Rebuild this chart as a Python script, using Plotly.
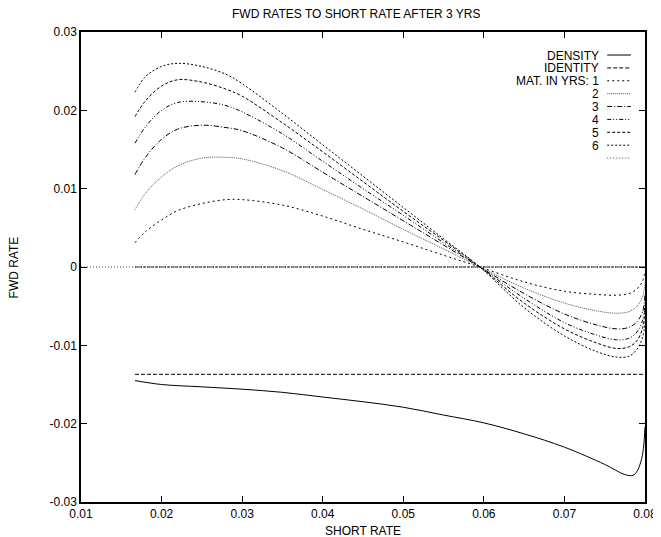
import plotly.graph_objects as go

# short-rate grid for the forward-rate curves
short_rate = [0.0167, 0.018, 0.02, 0.022, 0.025, 0.028, 0.03, 0.035, 0.04, 0.045, 0.05,
              0.055, 0.0595, 0.065, 0.07, 0.074, 0.0765, 0.078, 0.079, 0.0797, 0.08]

# forward rates by maturity (years)
mat_1 = [0.0031, 0.0045, 0.0060, 0.0072, 0.0081, 0.0086, 0.0086, 0.0079, 0.0065, 0.0048, 0.0032,
         0.0015, 0.0, -0.0019, -0.0031, -0.0035, -0.0036, -0.0034, -0.0028, -0.0018, -0.0005]
mat_2 = [0.0073, 0.0094, 0.0115, 0.0129, 0.0139, 0.0140, 0.0138, 0.0123, 0.0099, 0.0074, 0.0048,
         0.0023, 0.0, -0.0027, -0.0046, -0.0056, -0.0059, -0.0057, -0.0050, -0.0038, -0.0020]
mat_3 = [0.0118, 0.0140, 0.0163, 0.0176, 0.0181, 0.0178, 0.0174, 0.0152, 0.0121, 0.0090, 0.0059,
         0.0028, 0.0, -0.0034, -0.0060, -0.0074, -0.0079, -0.0077, -0.0070, -0.0057, -0.0035]
mat_4 = [0.0158, 0.0179, 0.0200, 0.0210, 0.0211, 0.0206, 0.0198, 0.0170, 0.0135, 0.0100, 0.0066,
         0.0031, 0.0, -0.0040, -0.0071, -0.0087, -0.0093, -0.0091, -0.0083, -0.0068, -0.0045]
mat_5 = [0.0192, 0.0212, 0.0231, 0.0239, 0.0236, 0.0227, 0.0218, 0.0184, 0.0147, 0.0109, 0.0071,
         0.0034, 0.0, -0.0046, -0.0079, -0.0097, -0.0104, -0.0102, -0.0094, -0.0078, -0.0055]
mat_6 = [0.0223, 0.0243, 0.0256, 0.0260, 0.0256, 0.0246, 0.0234, 0.0196, 0.0156, 0.0116, 0.0076,
         0.0036, 0.0, -0.0052, -0.0088, -0.0108, -0.0115, -0.0114, -0.0105, -0.0090, -0.0070]

# density of the short rate (scaled)
density_x = [0.0167, 0.02, 0.025, 0.03, 0.035, 0.04, 0.045, 0.05, 0.055, 0.06, 0.065, 0.07,
             0.075, 0.0775, 0.0785, 0.079, 0.0795, 0.0798, 0.08]
density_y = [-0.0145, -0.0150, -0.0153, -0.0156, -0.0160, -0.0166, -0.0172, -0.0179, -0.0189,
             -0.0199, -0.0213, -0.0230, -0.0252, -0.0265, -0.0266, -0.0261, -0.0248, -0.0232, -0.0204]

identity_x = [0.0167, 0.08]
identity_y = [-0.0137, -0.0137]
zero_x = [0.0167, 0.08]
zero_y = [0.0, 0.0]
zero_full_x = [0.01, 0.08]
zero_full_y = [0.0, 0.0]

x_ticks = [0.01, 0.02, 0.03, 0.04, 0.05, 0.06, 0.07, 0.08]
x_labels = ["0.01", "0.02", "0.03", "0.04", "0.05", "0.06", "0.07", "0.08"]
y_ticks = [-0.03, -0.02, -0.01, 0, 0.01, 0.02, 0.03]
y_labels = ["-0.03", "-0.02", "-0.01", "0", "0.01", "0.02", "0.03"]

legend_labels = ["DENSITY", "IDENTITY", "MAT. IN YRS: 1", "2", "3", "4", "5", "6", ""]

FONT = "Liberation Sans, Arial, Helvetica, sans-serif"

styles = {
    "density": dict(color="black", width=1, dash="solid"),
    "identity": dict(color="black", width=1, dash="4px,2px"),
    "m1": dict(color="black", width=1, dash="2px,3px"),
    "m2": dict(color="#555", width=1, dash="1px,1px"),
    "m3": dict(color="black", width=1, dash="5px,2px,1px,2px"),
    "m4": dict(color="black", width=1, dash="4px,2px,1px,2px,1px,2px"),
    "m5": dict(color="black", width=1, dash="3px,2px"),
    "m6": dict(color="black", width=1, dash="2px,2px"),
    "blank": dict(color="#444", width=1, dash="1px,2px"),
}

fig = go.Figure()
fig.add_trace(go.Scatter(x=zero_full_x, y=zero_full_y, mode="lines", line=styles["blank"]))
fig.add_trace(go.Scatter(x=zero_x, y=zero_y, mode="lines",
                         line=dict(color="#222", width=1, dash="3px,1px")))
fig.add_trace(go.Scatter(x=identity_x, y=identity_y, mode="lines", line=styles["identity"]))
fig.add_trace(go.Scatter(x=density_x, y=density_y, mode="lines", line=styles["density"],
                         line_shape="spline"))
for key, vals in zip(["m1", "m2", "m3", "m4", "m5", "m6"],
                     [mat_1, mat_2, mat_3, mat_4, mat_5, mat_6]):
    fig.add_trace(go.Scatter(x=short_rate, y=vals, mode="lines", line=styles[key],
                             line_shape="spline"))

# legend drawn by hand: text right-aligned, line sample to the right
legend_keys = ["density", "identity", "m1", "m2", "m3", "m4", "m5", "m6", "blank"]
row_top = 0.951
row_step = 0.0274
for i, (lab, key) in enumerate(zip(legend_labels, legend_keys)):
    yy = row_top - i * row_step
    if lab:
        fig.add_annotation(x=0.921, y=yy, xref="paper", yref="paper", text=lab,
                           showarrow=False, xanchor="right", yanchor="middle",
                           height=11, borderpad=0,
                           font=dict(family=FONT, size=12, color="black"))
    st = styles[key]
    fig.add_shape(type="line", xref="paper", yref="paper", x0=0.933, x1=0.975, y0=yy, y1=yy,
                  line=dict(color=st["color"], width=1, dash=st["dash"]))

fig.add_annotation(x=0.489, y=1.039, xref="paper", yref="paper",
                   text="FWD RATES TO SHORT RATE AFTER 3 YRS",
                   showarrow=False, xanchor="center", yanchor="middle", height=12,
                   font=dict(family=FONT, size=12, color="black"))
fig.add_annotation(x=-0.118, y=0.5, xref="paper", yref="paper", text="FWD RATE",
                   textangle=-90, showarrow=False, xanchor="center", yanchor="middle",
                   font=dict(family=FONT, size=12, color="black"))
fig.add_annotation(x=0.5, y=-0.062, xref="paper", yref="paper", text="SHORT RATE",
                   showarrow=False, xanchor="center", yanchor="middle", height=12,
                   font=dict(family=FONT, size=12, color="black"))

axis_common = dict(showgrid=False, zeroline=False, showline=True, linecolor="black",
                   linewidth=1.5, mirror="ticks", ticks="inside", ticklen=6, tickwidth=1,
                   tickcolor="black", tickfont=dict(family=FONT, size=12, color="black"))

# the page body adds an 8px margin, so the figure is sized to sit inside the window
fig.update_layout(
    width=661, height=529,
    margin=dict(l=73, r=15, t=24, b=35),
    paper_bgcolor="white", plot_bgcolor="white",
    showlegend=False,
    xaxis=dict(range=[0.01, 0.08], tickvals=x_ticks, ticktext=x_labels, **axis_common),
    yaxis=dict(range=[-0.03, 0.03], tickvals=y_ticks, ticktext=y_labels, **axis_common),
)

fig.write_html("out.html")
